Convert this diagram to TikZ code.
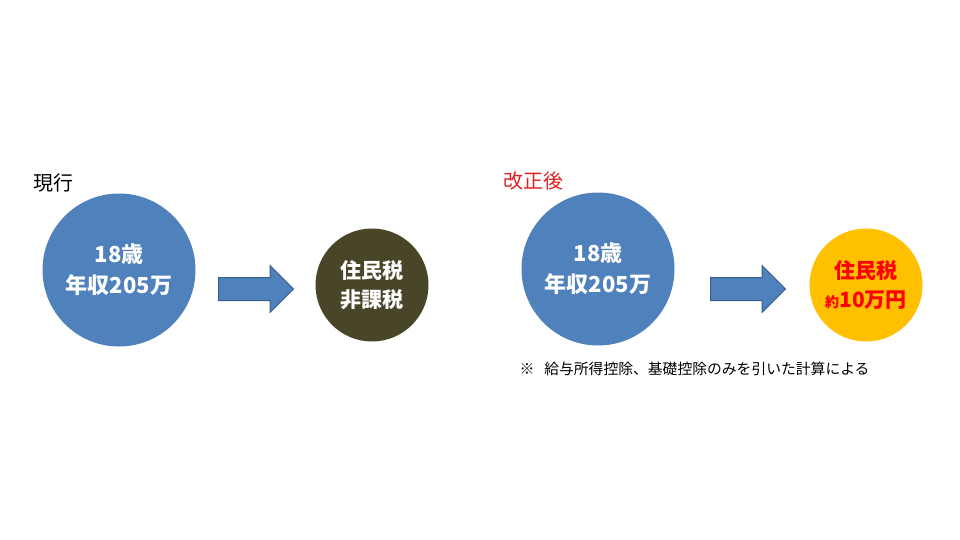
\documentclass[tikz,border=0pt]{standalone}
\usepackage{fontspec}
\setmainfont{Noto Sans CJK JP}
\usepackage{tikz}
\usetikzlibrary{positioning,shapes.arrows}
\definecolor{officeblue}{RGB}{79,129,189}
\definecolor{officeblueline}{RGB}{56,93,138}
\definecolor{taxolive}{RGB}{73,69,41}
\definecolor{taxgold}{RGB}{255,192,0}
\definecolor{taxred}{RGB}{255,0,0}
\definecolor{headred}{RGB}{224,32,32}

\begin{document}
\begin{tikzpicture}[
      x=1pt, y=-1pt,
      income/.style={circle, fill=officeblue, minimum size=153pt, inner sep=0pt,
        text=white, align=center, font=\fontsize{22}{31}\selectfont\bfseries},
      result/.style={circle, minimum size=113pt, inner sep=0pt, align=center,
        font=\fontsize{21}{29}\selectfont\bfseries},
      flow/.style={single arrow, fill=officeblue, draw=officeblueline, line width=1pt,
        minimum height=75pt, inner xsep=0pt, inner ysep=11pt, single arrow head extend=12pt},
      heading/.style={anchor=west, font=\fontsize{20}{24}\selectfont},
      note/.style={anchor=west, font=\fontsize{14.8}{18}\selectfont}
    ]
    % ---- canvas: 960 x 540 ----
    \useasboundingbox (0,0) rectangle (960,540);

    % ---- current system ----
    \node[heading] (nowhead) at (30,183) {現行};
    \node[income] (nowincome) at (119,270) {18歳\\年収205万};
    \node[flow, anchor=west] (nowflow) at (218,289) {};
    \node[result, fill=taxolive, text=white] (nowtax) at (372,285) {住民税\\非課税};

    % ---- after the revision ----
    \node[heading, text=headred] (newhead) at (500,181) {改正後};
    \node[income] (newincome) at (598,269) {18歳\\年収205万};
    \node[flow, anchor=west] (newflow) at (710,289) {};
    \node[result, fill=taxgold, text=taxred] (newtax) at (866,285)
      {住民税\\{\fontsize{14}{14}\selectfont 約}10万円};

    % ---- footnote ----
    \node[note] (footnote) at (516,369) {※\hspace{10pt}給与所得控除、基礎控除のみを引いた計算による};
  \end{tikzpicture}
\end{document}
